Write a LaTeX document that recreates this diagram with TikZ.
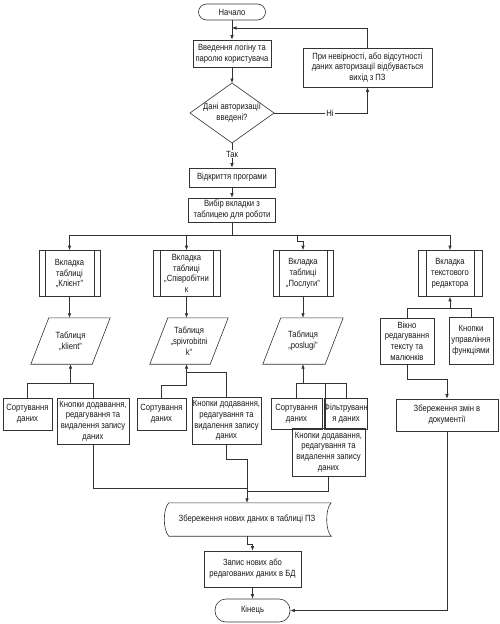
\documentclass[tikz,border=0pt]{standalone}
\usepackage{fontspec}
\setmainfont{Liberation Sans}[FakeStretch=0.85]
\usetikzlibrary{arrows.meta}
\begin{document}
\begin{tikzpicture}[x=1pt,y=-1pt,
  every node/.style={font=\fontsize{9}{10.8}\selectfont, text=black!90, inner sep=0pt, align=center},
  ln/.style={draw=black!80, line width=0.6pt},
  box/.style={ln, rectangle},
  term/.style={ln, rectangle, rounded corners=#1},
  predef/.style={box, path picture={
      \draw[black!80, line width=0.6pt]
        ([xshift=#1]path picture bounding box.north west) -- ([xshift=#1]path picture bounding box.south west)
        ([xshift=-#1]path picture bounding box.north east) -- ([xshift=-#1]path picture bounding box.south east);}},
  conn/.style={draw=black!80, line width=0.6pt},
  arr/.style={conn, -{Latex[length=4.5pt,width=3.5pt]}},
  lbl/.style={fill=white, inner sep=1pt}
]
\useasboundingbox (0,0) rectangle (500,624);

% top column
\node[term=8pt, minimum width=67, minimum height=16] (start) at (232,12) {Начало};
\node[box, minimum width=78, minimum height=27] (login) at (232,53.5) {Введення логіну та\\паролю користувача};
\coordinate (dT) at (232,83);
\coordinate (dR) at (274,113);
\coordinate (dB) at (232,143);
\coordinate (dL) at (190,113);
\draw[ln] (dT) -- (dR) -- (dB) -- (dL) -- cycle;
\node (dtext) at (232,113) {Дані авторизації\\введені?};
\node[box, minimum width=129, minimum height=39] (err) at (367.5,67.5) {При невірності, або відсутності\\даних авторизації відбувається\\вихід з ПЗ};
\node[box, minimum width=86, minimum height=19] (open) at (232,177.5) {Відкриття програми};
\node[box, minimum width=87, minimum height=24] (choose) at (232,210) {Вибір вкладки з\\таблицею для роботи};

% tabs
\node[predef=6, minimum width=61, minimum height=46] (tk) at (69.5,273.5) {Вкладка\\таблиці\\„Клієнт”};
\node[predef=7, minimum width=67, minimum height=46] (ts) at (186.5,273.5) {Вкладка\\таблиці\\„Співробітни\\к};
\node[predef=6, minimum width=60, minimum height=46] (tp) at (303,273.5) {Вкладка\\таблиці\\„Послуги”};
\node[predef=8, minimum width=64, minimum height=46] (tt) at (450,273.5) {Вкладка\\текстового\\редактора};

% tables (parallelograms)
\node[minimum width=79, minimum height=46] (pk) at (70.5,341) {Таблиця\\„klient”};
\node[minimum width=78, minimum height=46] (ps) at (189,341) {Таблиця\\„spivrobitni\\k”};
\node[minimum width=80, minimum height=46] (pp) at (303,341) {Таблиця\\„poslugi”};
\foreach \p in {pk,ps,pp}{
  \draw[ln] ([xshift=18]\p.north west) -- (\p.north east) -- ([xshift=-18]\p.south east) -- (\p.south west) -- cycle;
}

% lower boxes
\node[box, minimum width=49, minimum height=32] (sort1) at (27.5,414) {Сортування\\даних};
\node[box, minimum width=72, minimum height=46] (btn1) at (93,421) {Кнопки додавання,\\редагування та\\видалення запису\\даних};
\node[box, minimum width=49, minimum height=32] (sort2) at (161.5,414) {Сортування\\даних};
\node[box, minimum width=69, minimum height=47] (btn2) at (226.5,420.5) {Кнопки додавання,\\редагування та\\видалення запису\\даних};
\node[box, minimum width=51, minimum height=31] (sort3) at (296.5,413.5) {Сортування\\даних};
\node[box, minimum width=38, minimum height=31] (filt) at (346,413.5) {Фільтруванн\\я даних};
\node[box, minimum width=73, minimum height=48] (btn3) at (328.5,452) {Кнопки додавання,\\редагування та\\видалення запису\\даних};
\node[box, minimum width=54, minimum height=46] (wino) at (407,341) {Вікно\\редагування\\тексту та\\малюнків};
\node[box, minimum width=44, minimum height=47] (kn) at (471,340.5) {Кнопки\\управління\\функціями};
\node[box, minimum width=102, minimum height=32] (zd) at (447,415) {Збереження змін в\\документії};

% bottom
\node[minimum width=168, minimum height=33] (save) at (247,519.5) {Збереження нових даних в таблиці ПЗ};
\draw[ln] ([xshift=6]save.north west) -- (save.north east)
  .. controls ([xshift=-6,yshift=-6]save.north east) and ([xshift=-6,yshift=6]save.south east) .. (save.south east)
  -- ([xshift=6]save.south west)
  .. controls ([yshift=6]save.south west) and ([yshift=-6]save.north west) .. ([xshift=6]save.north west) -- cycle;
\node[box, minimum width=97, minimum height=36] (rec) at (252.5,569) {Запис нових або\\редагованих даних в БД};
\node[term=11pt, minimum width=75, minimum height=23] (end) at (252.5,610.5) {Кінець};

% connectors: top
\coordinate (jn) at (232,28);
\draw[arr] (start.south) -- (login.north);
\draw[arr] (login.south) -- (dT);
\draw[arr] (dR) -- (err.south |- dR) -- (err.south);
\node[lbl] at (330,113) {Ні};
\draw[arr] (err.north) |- (jn);
\draw[arr] (dB) -- (open.north);
\node[lbl] at (232,154) {Так};
\draw[arr] (open.south) -- (choose.north);
\coordinate (bus) at (232,235);
\draw[arr] (choose.south) -- (bus) -| (tk.north);
\draw[arr] (bus) -| (ts.north);
\draw[arr] (bus) -| (tt.north);
\draw[arr] (bus) -- (297,235) -- (297,241) -- (tp.north |- 0,241) -- (tp.north);

% tabs to tables
\draw[arr] (tk.south) -- (tk.south |- pk.north);
\draw[arr] (ts.south) -- (ts.south |- ps.north);
\draw[arr] (tp.south) -- (pp.north);

% column 1
\coordinate (j1) at (70.5,383);
\draw[conn] (sort1.north) |- (j1);
\draw[conn] (btn1.north) |- (j1);
\draw[arr] (j1) -- (pk.south);
% column 2
\coordinate (j2) at (186.5,385);
\coordinate (j2b) at (186.5,372);
\draw[conn] (sort2.north) |- (j2);
\draw[conn] (btn2.north) |- (j2b);
\draw[arr] (j2) -- (ps.south -| j2);
% column 3
\coordinate (j3) at (303,383);
\draw[conn] (sort3.north) |- (filt.north |- j3) -- (filt.north);
\draw[conn] ([xshift=-3.5]btn3.north) -- ([xshift=-3.5]btn3.north |- j3);
\draw[arr] (j3) -- (pp.south);
% text editor column
\coordinate (j4) at (450,308);
\draw[conn] (wino.north) |- (j4);
\draw[conn] (kn.north) |- (j4);
\draw[arr] (j4) -- (tt.south);
\draw[arr] (wino.south) -- ++(0,15) -| (zd.north);

% merge to save
\coordinate (m) at (247,488);
\draw[conn] (btn1.south) |- (m);
\draw[conn] (btn3.south) |- (247,491);
\draw[arr] (btn2.south) -- ++(0,15) -| (save.north);
\draw[arr] (save.south) -- ++(0,8) -| (rec.north);
\draw[arr] (rec.south) -- (end.north);
\draw[arr] (zd.south) |- (end.east);
\end{tikzpicture}
\end{document}
